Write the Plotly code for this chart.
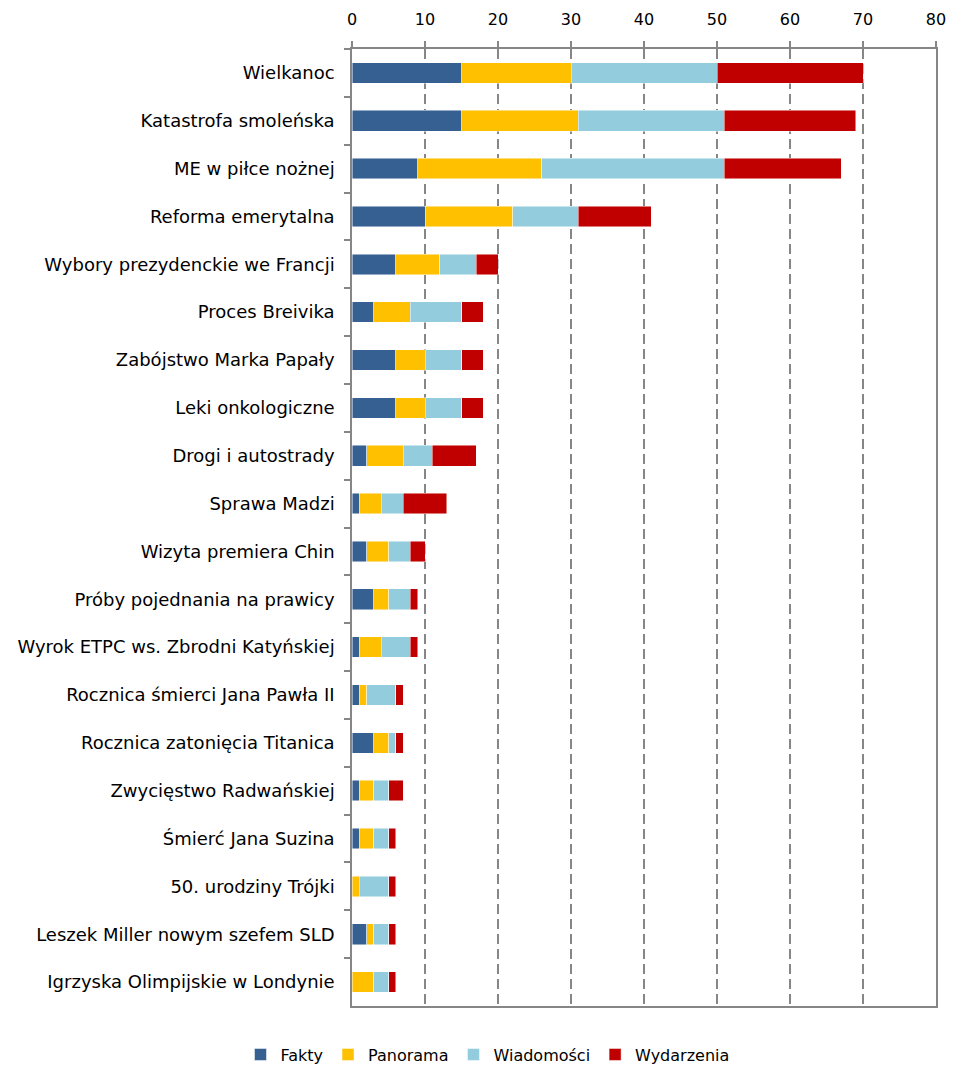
import plotly.graph_objects as go

categories = [
    "Wielkanoc", "Katastrofa smoleńska", "ME w piłce nożnej", "Reforma emerytalna",
    "Wybory prezydenckie we Francji", "Proces Breivika", "Zabójstwo Marka Papały",
    "Leki onkologiczne", "Drogi i autostrady", "Sprawa Madzi", "Wizyta premiera Chin",
    "Próby pojednania na prawicy", "Wyrok ETPC ws. Zbrodni Katyńskiej",
    "Rocznica śmierci Jana Pawła II", "Rocznica zatonięcia Titanica",
    "Zwycięstwo Radwańskiej", "Śmierć Jana Suzina", "50. urodziny Trójki",
    "Leszek Miller nowym szefem SLD", "Igrzyska Olimpijskie w Londynie",
]
fakty =       [15, 15,  9, 10, 6, 3, 6, 6, 2, 1, 2, 3, 1, 1, 3, 1, 1, 0, 2, 0]
panorama =    [15, 16, 17, 12, 6, 5, 4, 4, 5, 3, 3, 2, 3, 1, 2, 2, 2, 1, 1, 3]
wiadomosci =  [20, 20, 25,  9, 5, 7, 5, 5, 4, 3, 3, 3, 4, 4, 1, 2, 2, 4, 2, 2]
wydarzenia =  [20, 18, 16, 10, 3, 3, 3, 3, 6, 6, 2, 1, 1, 1, 1, 2, 1, 1, 1, 1]

series = [
    ("Fakty", fakty, "#376092"),
    ("Panorama", panorama, "#FFC000"),
    ("Wiadomości", wiadomosci, "#93CDDD"),
    ("Wydarzenia", wydarzenia, "#C00000"),
]

FONT = "DejaVu Sans"
fig = go.Figure()
for name, vals, col in series:
    fig.add_trace(go.Bar(
        y=categories, x=vals, name=name, orientation="h",
        marker=dict(color=col, line=dict(color="rgba(255,255,255,0.6)", width=0.8)),
    ))

fig.update_layout(
    barmode="stack",
    bargap=0.57,
    width=954, height=1066,
    margin=dict(l=352, r=18, t=49, b=60, autoexpand=False),
    paper_bgcolor="white", plot_bgcolor="white",
    font=dict(family=FONT, size=16, color="#000000"),
    legend=dict(orientation="h", x=0.232, xanchor="center", xref="paper",
                y=-0.033, yanchor="top", font=dict(size=16, family=FONT),
                traceorder="normal", itemwidth=30),
    showlegend=True,
)
fig.update_xaxes(
    side="top", range=[0, 80], dtick=10, tick0=0, automargin=False,
    showgrid=True, gridcolor="#868686", gridwidth=1.5, griddash="10px,5px",
    showline=True, linecolor="#868686", linewidth=1.5, mirror=True,
    ticks="outside", ticklen=6, tickcolor="#868686", tickwidth=1.5,
    ticklabelstandoff=10, zeroline=False,
    tickfont=dict(size=16, family=FONT),
)
fig.update_yaxes(
    categoryorder="array", categoryarray=categories, autorange="reversed",
    automargin=False,
    showline=True, linecolor="#868686", linewidth=1.5, mirror=True,
    ticks="outside", ticklen=6, tickcolor="#868686", tickwidth=1.5,
    tickson="boundaries", showgrid=False, ticklabelstandoff=12,
    tickfont=dict(size=18, family=FONT),
)
fig.write_html("out.html", config={"displayModeBar": False},
               post_script="document.body.style.margin='0px';")
